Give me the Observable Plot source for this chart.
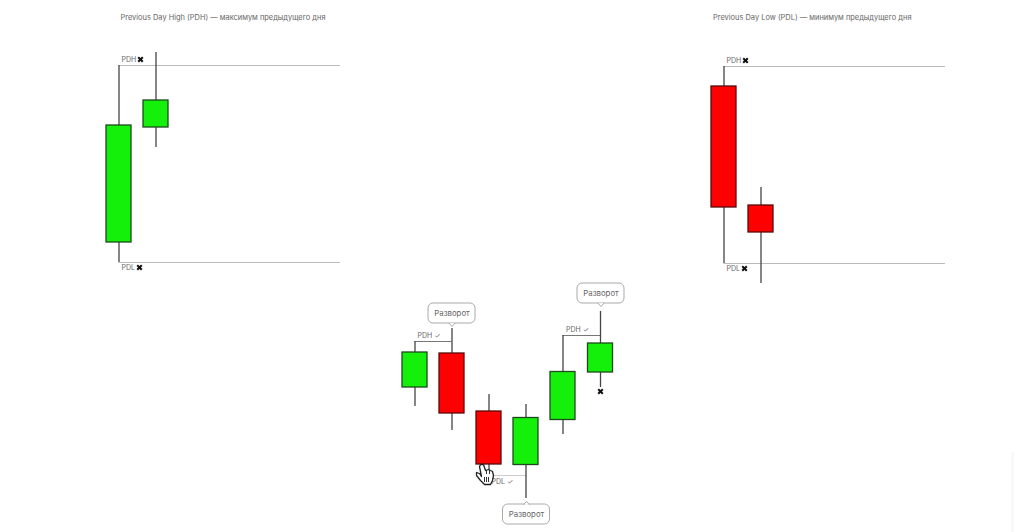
<!DOCTYPE html>
<html><head><meta charset="utf-8">
<script src="https://cdn.jsdelivr.net/npm/d3@7"></script>
<script src="https://cdn.jsdelivr.net/npm/@observablehq/plot@0.6"></script>
<style>html,body{margin:0;padding:0;background:#fff}svg{display:block}</style>
</head><body><div id="chart"></div>
<script>
const candleX = [118.5,155.5,723.5,760.5,414.5,451.5,488.5,525.5,562.5,600];
const highs   = [467,480,466,345,191,204,138,128,197,221];
const opens   = [290,405,446,327,145,179,121,67.5,112.5,160];
const closes  = [407,432,325,300,180,119,68,114.5,160.5,189];
const lows    = [270,385,269,249,126,102,57,34,98,145];
const levelX1 = [118.5,118.5,723.5,723.5,414.5,562.5,488.5];
const levelX2 = [340,340,945,945,451.5,600,526];
const levelY  = [467,270,466,269,191,197,57];
const levelColor = ["#bbb","#bbb","#bbb","#bbb","#777","#777","#ccc"];
const titles  = ["Previous Day High (PDH) — максимум предыдущего дня","Previous Day Low (PDL) — минимум предыдущего дня"];
const titleX  = [120,712.5];
const titleY  = [515,515];
const labels  = ["PDH","PDL","PDH","PDL","PDH ✓","PDH ✓","PDL ✓"];
const labelX  = [121,121,726,726,417,565.5,491];
const labelY  = [473,265,472,264,197,203,51];
const crossX  = [140,139,745,744,600];
const crossY  = [473,265,472,264,141];
const calloutText = ["Разворот","Разворот","Разворот"];
const calloutX = [451.5,600.5,526];
const calloutY = [219,239,18];
const tailDir  = [-1,-1,1];
const handX = [480,483,485,488,490,492,493,492,490,484,480,476,476,479,481,479,480];
const handY = [68,68,62,63,62,61,57,52,48,48,52,57,60,59,56,66,68];
const handLineX  = [484,486,488,486,489];
const handLineY1 = [50,50,50,58,58];
const handLineY2 = [55,55,55,62,62];
const edgeX = [1012];
const edgeY1 = [0];
const edgeY2 = [80];

const candles = candleX.map((x,i)=>({x,high:highs[i],low:lows[i],open:opens[i],close:closes[i]}));
const levels = levelY.map((y,i)=>({x1:levelX1[i],x2:levelX2[i],y,c:levelColor[i]}));
const calls = calloutX.map((x,i)=>({x,y:calloutY[i],t:calloutText[i],d:tailDir[i]}));
const bw = 12.5, cw = 23.5, ch = 10;
const font = "Inter, 'Liberation Sans', sans-serif";
const up = d => d.close >= d.open;
const tails = calls.flatMap((c,i)=>[-3,0,3].map(o=>({i,x:c.x+o,y:c.y+c.d*(ch+(o===0?3:-0.3))})));

document.getElementById("chart").append(Plot.plot({
  width:1028,height:532,margin:0,
  style:{background:"#fff",fontFamily:font},
  x:{type:"linear",domain:[0,1028],range:[0,1028],axis:null},
  y:{type:"linear",domain:[0,532],range:[532,0],axis:null},
  marks:[
    Plot.ruleX(edgeX,{x:d=>d,y1:(d,i)=>edgeY1[i],y2:(d,i)=>edgeY2[i],stroke:"#f8f8f8",strokeWidth:3}),
    Plot.ruleY(levels,{x1:"x1",x2:"x2",y:"y",stroke:"c",strokeWidth:1}),
    Plot.ruleX(candles,{x:"x",y1:"low",y2:"high",stroke:"#444",strokeWidth:1.3}),
    Plot.rect(candles,{x1:d=>d.x-bw,x2:d=>d.x+bw,y1:"open",y2:"close",
      fill:d=>up(d)?"#15f00a":"#ff0000",stroke:d=>up(d)?"#1c4a1c":"#5a0a0a",strokeWidth:1.3}),
    Plot.text(titles,{x:(d,i)=>titleX[i],y:(d,i)=>titleY[i],text:d=>d,textAnchor:"start",fontSize:7.45,fill:"#666"}),
    Plot.text(labels,{x:(d,i)=>labelX[i],y:(d,i)=>labelY[i],text:d=>d,textAnchor:"start",fontSize:7,fill:"#666"}),
    Plot.dot(crossX,{x:d=>d,y:(d,i)=>crossY[i],symbol:"times",r:2.2,stroke:"#111",strokeWidth:2}),
    Plot.rect(calls,{x1:d=>d.x-cw,x2:d=>d.x+cw,y1:d=>d.y-ch,y2:d=>d.y+ch,rx:5,fill:"#fff",stroke:"#aaa",strokeWidth:1}),
    Plot.line(tails,{x:"x",y:"y",z:"i",stroke:"#aaa",fill:"#fff",strokeWidth:1}),
    Plot.text(calls,{x:"x",y:"y",text:"t",fontSize:7.8,fill:"#666"}),
    Plot.line(handX,{x:d=>d,y:(d,i)=>handY[i],fill:"#fff",stroke:"#222",strokeWidth:1.3,curve:"linear"}),
    Plot.ruleX(handLineX,{x:d=>d,y1:(d,i)=>handLineY1[i],y2:(d,i)=>handLineY2[i],stroke:"#333",strokeWidth:1})
  ]
}));
</script></body></html>
